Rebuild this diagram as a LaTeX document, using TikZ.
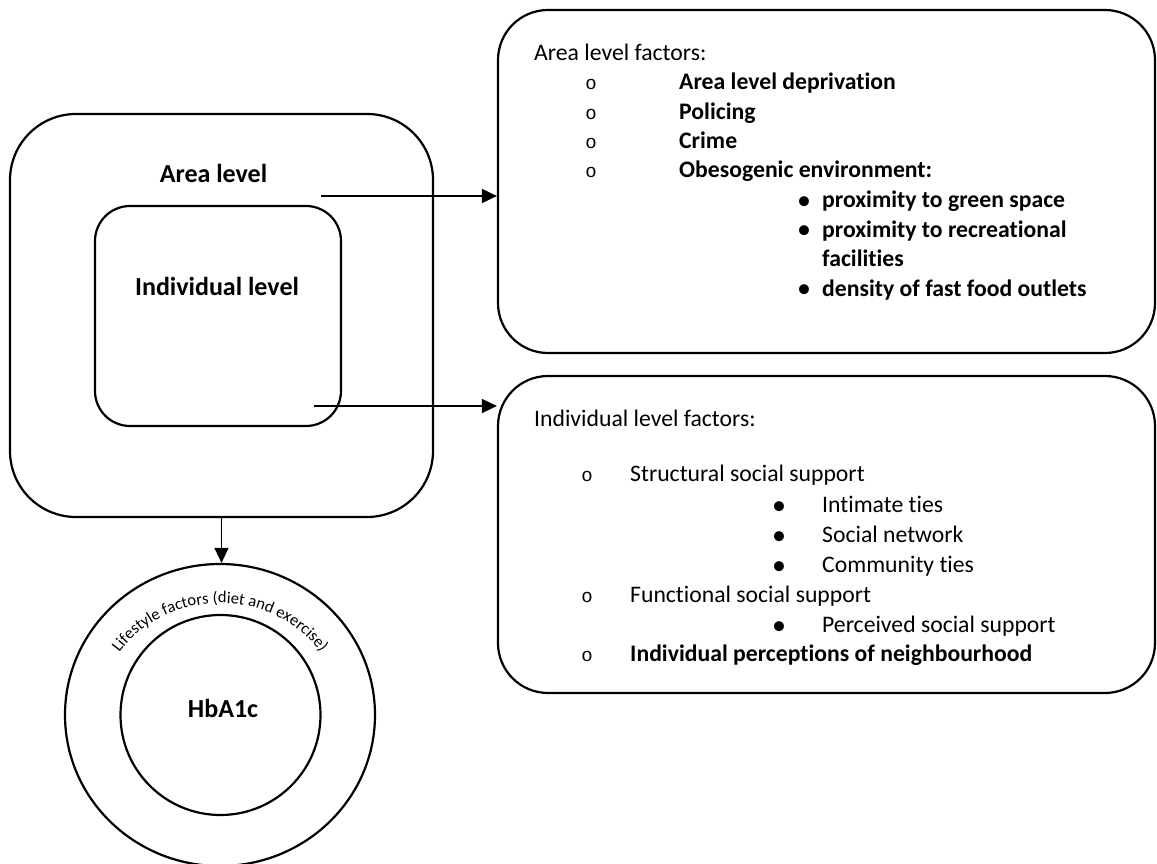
\documentclass[tikz,border=0pt]{standalone}
\usepackage{fontspec}
\setmainfont{Carlito}[Ligatures={NoCommon,NoContextual}]
\newfontfamily\markfont{Liberation Mono}
\usetikzlibrary{arrows.meta,shapes.geometric,decorations.text}

\begin{document}
\begin{tikzpicture}[x=1pt,y=1pt,
  lvlbox/.style={draw, line width=2.2pt, inner sep=0pt},
  headtxt/.style={font=\fontsize{26pt}{30pt}\selectfont\bfseries, inner sep=0pt, anchor=base},
  bodytxt/.style={font=\fontsize{23.7pt}{28pt}\selectfont, inner sep=0pt, anchor=base west},
  boldtxt/.style={font=\fontsize{23.7pt}{28pt}\selectfont\bfseries, inner sep=0pt, anchor=base west},
  ringmark/.style={font=\fontsize{19pt}{24pt}\markfont, inner sep=0pt, anchor=base},
  bulletmark/.style={font=\fontsize{28pt}{30pt}\selectfont, inner sep=0pt, anchor=center},
  flowarrow/.style={line width=1.6pt, -{Triangle[length=15pt,width=14pt]}}
]
\useasboundingbox (0,0) rectangle (1157,863);

% nested levels
\node[lvlbox, rounded corners=66pt, minimum width=423pt, minimum height=403pt] (area) at (221.5,547.5) {};
\node[lvlbox, rounded corners=35pt, minimum width=246pt, minimum height=220pt] (indiv) at (218,547) {};
\node[headtxt] (areatitle) at (213.5,680) {Area level};
\node[headtxt] (indivtitle) at (217,567) {Individual level};

% factor boxes
\node[lvlbox, rounded corners=50pt, minimum width=657pt, minimum height=343pt] (areabox) at (826.5,681.5) {};
\node[lvlbox, rounded corners=50pt, minimum width=657pt, minimum height=317pt] (indivbox) at (826.5,328.5) {};

% outcome rings
\node[lvlbox, ellipse, minimum width=310pt, minimum height=302pt] (life) at (220,148) {};
\node[lvlbox, circle, minimum size=200pt] (hba) at (220.5,148) {};
\node[headtxt] (hbatxt) at (223,146) {HbA1c};
\path[decorate, decoration={text along path, text align=center,
    text={|\fontsize{16.5pt}{16.5pt}\selectfont|Lifestyle factors (diet and exercise)}}]
  (220,148) ++(152:121pt and 112pt) arc[start angle=152, end angle=28, x radius=121pt, y radius=112pt];

% connectors
\coordinate (fromarea) at (321,667);
\coordinate (fromindiv) at (314,457);
\draw[flowarrow] (fromarea) -- (fromarea -| areabox.west);
\draw[flowarrow] (fromindiv) -- (fromindiv -| indivbox.west);
\draw[flowarrow] (area.south) -- (area.south |- life.north);

% area level factors
\node[bodytxt] (af0) at (534,802) {Area level factors:};
\node[ringmark] (am1) at (591,773) {o};
\node[boldtxt] (af1) at (679,773) {Area level deprivation};
\node[ringmark] (am2) at (591,743) {o};
\node[boldtxt] (af2) at (679,743) {Policing};
\node[ringmark] (am3) at (591,714) {o};
\node[boldtxt] (af3) at (679,714) {Crime};
\node[ringmark] (am4) at (591,685) {o};
\node[boldtxt] (af4) at (679,685) {Obesogenic environment:};
\node[bulletmark] (ab1) at (804,660) {•};
\node[boldtxt] (ae1) at (822,655) {proximity to green space};
\node[bulletmark] (ab2) at (804,630.5) {•};
\node[boldtxt] (ae2) at (822,625.5) {proximity to recreational};
\node[boldtxt] (ae2b) at (822,596) {facilities};
\node[bulletmark] (ab3) at (804,571.5) {•};
\node[boldtxt] (ae3) at (822,566.5) {density of fast food outlets};

% individual level factors
\node[bodytxt] (if0) at (534,436) {Individual level factors:};
\node[ringmark] (im1) at (587,381) {o};
\node[bodytxt] (if1) at (630,381) {Structural social support};
\node[bulletmark] (ib1) at (779,355) {•};
\node[bodytxt] (ie1) at (822,350) {Intimate ties};
\node[bulletmark] (ib2) at (779,325) {•};
\node[bodytxt] (ie2) at (822,320) {Social network};
\node[bulletmark] (ib3) at (779,295) {•};
\node[bodytxt] (ie3) at (822,290) {Community ties};
\node[ringmark] (im2) at (587,260) {o};
\node[bodytxt] (if2) at (630,260) {Functional social support};
\node[bulletmark] (ib4) at (779,235) {•};
\node[bodytxt] (ie4) at (822,230) {Perceived social support};
\node[ringmark] (im3) at (587,201) {o};
\node[boldtxt] (if3) at (630,201) {Individual perceptions of neighbourhood};
\end{tikzpicture}
\end{document}
